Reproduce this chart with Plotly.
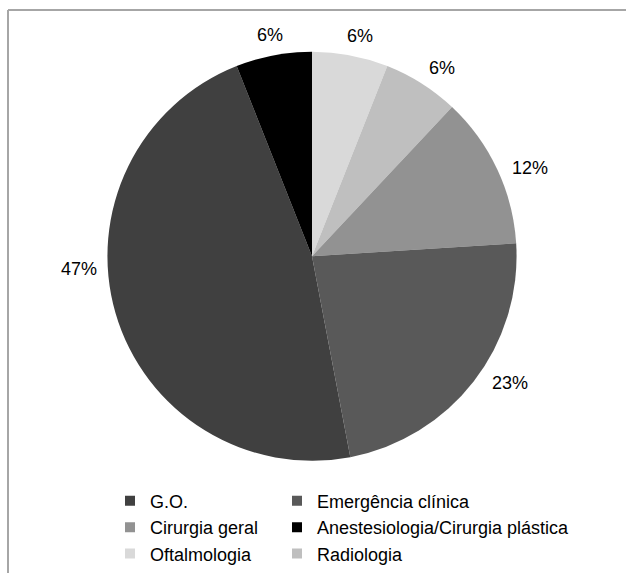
import math
import plotly.graph_objects as go

# ---------------- data ----------------
# slices in clockwise order starting at 12 o'clock (percent of total)
categories = ["Oftalmologia", "Radiologia", "Cirurgia geral", "Emergência clínica",
              "G.O.", "Anestesiologia/Cirurgia plástica"]
percents = [6, 6, 12, 23, 47, 6]

# legend layout (two columns)
legend_col1 = ["G.O.", "Cirurgia geral", "Oftalmologia"]
legend_col2 = ["Emergência clínica", "Anestesiologia/Cirurgia plástica", "Radiologia"]

# ---------------- style ----------------
colors = {
    "G.O.": "#404040",
    "Emergência clínica": "#595959",
    "Cirurgia geral": "#929292",
    "Anestesiologia/Cirurgia plástica": "#000000",
    "Oftalmologia": "#d9d9d9",
    "Radiologia": "#bfbfbf",
}
# small angular nudges (degrees) for the outside labels, like the spreadsheet's "best fit"
label_nudge = {
    "Oftalmologia": 1.5, "Radiologia": 2.0, "Cirurgia geral": 3.0,
    "Emergência clínica": -5.0, "G.O.": 13.0, "Anestesiologia/Cirurgia plástica": 0.0,
}
FONT = "Liberation Sans, Arial, Helvetica, sans-serif"
W, H = 626, 573
CX, CY, R = 312, 258, 206          # pie centre / radius in pixels
LABEL_GAP = 9
LABEL_SIZE = 18

fig = go.Figure()

fig.add_trace(go.Pie(
    labels=categories,
    values=percents,
    sort=False,
    direction="clockwise",
    rotation=0,
    marker=dict(colors=[colors[c] for c in categories], line=dict(width=0)),
    textinfo="none",
    showlegend=False,
    domain=dict(x=[(CX - R) / W, (CX + R) / W], y=[1 - (CY + R) / H, 1 - (CY - R) / H]),
))

# percentage labels placed outside each slice from its mid angle
total = sum(percents)
cum = 0.0
annotations = []
for c, v in zip(categories, percents):
    frac = v / total
    mid = (cum + frac / 2) * 2 * math.pi + math.radians(label_nudge[c])
    cum += frac
    txt = f"{round(frac * 100)}%"
    tw = (0.556 * (len(txt) - 1) + 0.889) * LABEL_SIZE
    th = LABEL_SIZE
    s, co = math.sin(mid), math.cos(mid)
    d = R + LABEL_GAP + abs(s) * tw / 2 + abs(co) * th / 2
    px = CX + d * s
    py = CY - d * co
    annotations.append(dict(
        x=px / W, y=1 - py / H, xref="paper", yref="paper",
        text=txt, showarrow=False, xanchor="center", yanchor="middle",
        font=dict(family=FONT, size=LABEL_SIZE, color="#000000"),
    ))

# legend entries
for name in legend_col1:
    fig.add_trace(go.Scatter(x=[None], y=[None], mode="markers", name=name,
                             marker=dict(symbol="square", size=10, color=colors[name]),
                             legend="legend", hoverinfo="skip"))
for name in legend_col2:
    fig.add_trace(go.Scatter(x=[None], y=[None], mode="markers", name=name,
                             marker=dict(symbol="square", size=10, color=colors[name]),
                             legend="legend2", hoverinfo="skip"))

legend_common = dict(
    xanchor="left", yanchor="top", orientation="v",
    font=dict(family=FONT, size=LABEL_SIZE, color="#000000"),
    bgcolor="rgba(0,0,0,0)", borderwidth=0, traceorder="normal",
)

fig.update_layout(
    width=W, height=H,
    margin=dict(l=0, r=0, t=0, b=0),
    paper_bgcolor="#ffffff", plot_bgcolor="#ffffff",
    xaxis=dict(visible=False), yaxis=dict(visible=False),
    annotations=annotations,
    legend=dict(x=110 / W, y=1 - 486 / H, **legend_common),
    legend2=dict(x=277 / W, y=1 - 486 / H, **legend_common),
    shapes=[
        dict(type="line", xref="paper", yref="paper", x0=8 / W, x1=1.05, y0=1 - 10 / H, y1=1 - 10 / H,
             line=dict(color="#a6a6a6", width=2), layer="below"),
        dict(type="line", xref="paper", yref="paper", x0=8 / W, x1=8 / W, y0=-0.05, y1=1 - 10 / H,
             line=dict(color="#a6a6a6", width=2), layer="below"),
    ],
)

fig.write_html("out.html")
